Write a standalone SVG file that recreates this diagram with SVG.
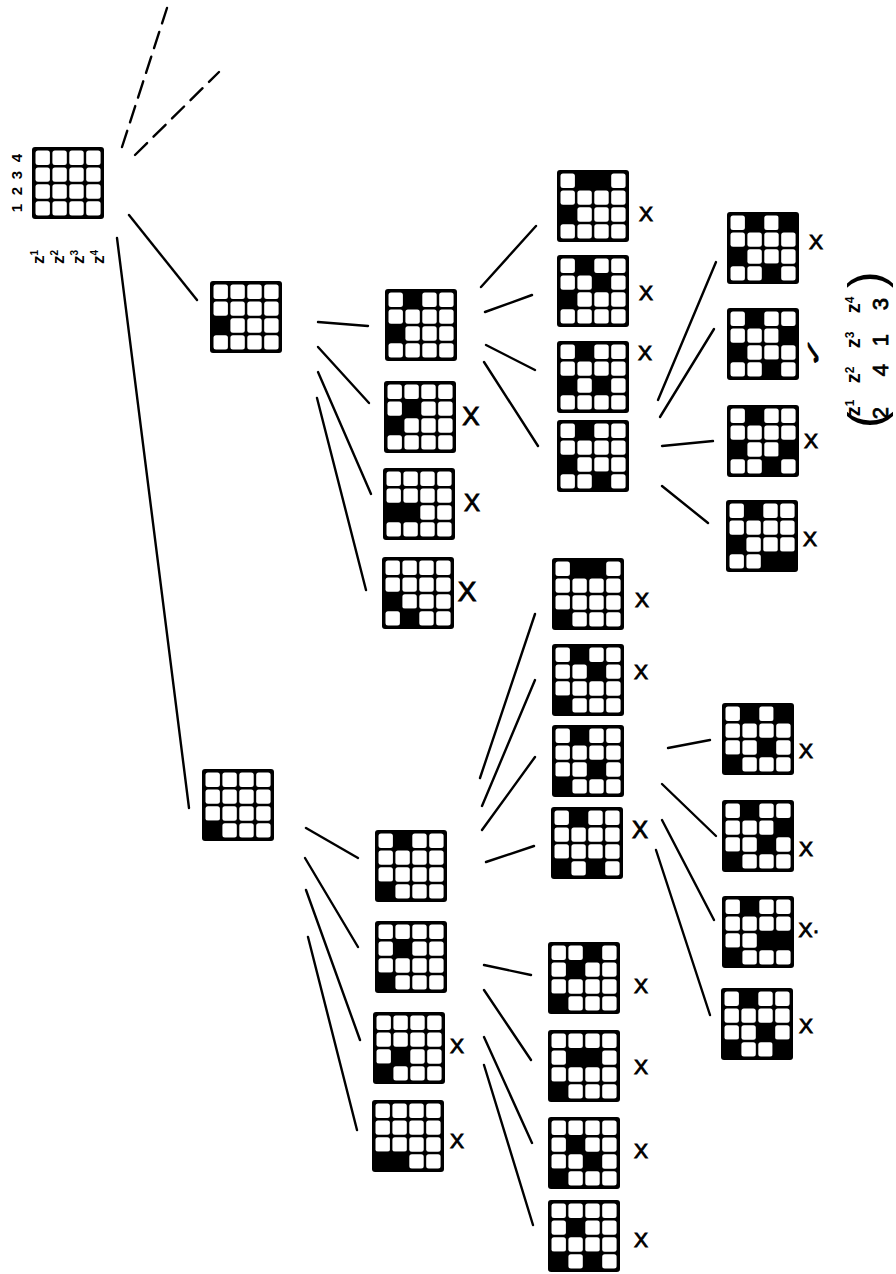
<svg xmlns="http://www.w3.org/2000/svg" xmlns:xlink="http://www.w3.org/1999/xlink" width="896" height="1274" viewBox="0 0 896 1274">
<style>
.cell{fill:#fff}
.q{fill:#000}
.ln{stroke:#000;stroke-width:2.4;stroke-linecap:round;fill:none}
.dash{stroke-dasharray:17 9}
.mk{font-family:"Liberation Sans",Arial,sans-serif;font-size:21px;fill:#000;stroke:#000;stroke-width:0.9;text-anchor:middle}
.lab{font-family:"Liberation Sans",Arial,sans-serif;fill:#000;font-weight:bold}
</style>
<defs>
<g id="board">
<rect width="72" height="72" rx="3" fill="#000"/>
<rect class="cell" x="3.5" y="3.5" width="14.4" height="14.4" rx="2.5"/>
<rect class="cell" x="20.4" y="3.5" width="14.4" height="14.4" rx="2.5"/>
<rect class="cell" x="37.3" y="3.5" width="14.4" height="14.4" rx="2.5"/>
<rect class="cell" x="54.2" y="3.5" width="14.4" height="14.4" rx="2.5"/>
<rect class="cell" x="3.5" y="20.4" width="14.4" height="14.4" rx="2.5"/>
<rect class="cell" x="20.4" y="20.4" width="14.4" height="14.4" rx="2.5"/>
<rect class="cell" x="37.3" y="20.4" width="14.4" height="14.4" rx="2.5"/>
<rect class="cell" x="54.2" y="20.4" width="14.4" height="14.4" rx="2.5"/>
<rect class="cell" x="3.5" y="37.3" width="14.4" height="14.4" rx="2.5"/>
<rect class="cell" x="20.4" y="37.3" width="14.4" height="14.4" rx="2.5"/>
<rect class="cell" x="37.3" y="37.3" width="14.4" height="14.4" rx="2.5"/>
<rect class="cell" x="54.2" y="37.3" width="14.4" height="14.4" rx="2.5"/>
<rect class="cell" x="3.5" y="54.2" width="14.4" height="14.4" rx="2.5"/>
<rect class="cell" x="20.4" y="54.2" width="14.4" height="14.4" rx="2.5"/>
<rect class="cell" x="37.3" y="54.2" width="14.4" height="14.4" rx="2.5"/>
<rect class="cell" x="54.2" y="54.2" width="14.4" height="14.4" rx="2.5"/>
</g>
<rect id="qn" class="q" x="-0.9" y="-0.9" width="17.4" height="17.4"/>
</defs>

<g id="connectors">
<line class="ln dash" x1="122" y1="147" x2="167" y2="8"/>
<line class="ln dash" x1="135" y1="155" x2="219" y2="72"/>
<line class="ln" x1="129" y1="215" x2="197" y2="300"/>
<line class="ln" x1="117" y1="238" x2="189" y2="808"/>
<line class="ln" x1="318" y1="322" x2="368" y2="326"/>
<line class="ln" x1="318" y1="347" x2="369" y2="403"/>
<line class="ln" x1="318" y1="372" x2="371" y2="494"/>
<line class="ln" x1="317" y1="398" x2="366" y2="590"/>
<line class="ln" x1="481" y1="287" x2="536" y2="226"/>
<line class="ln" x1="485" y1="312" x2="532" y2="295"/>
<line class="ln" x1="486" y1="345" x2="535" y2="370"/>
<line class="ln" x1="484" y1="362" x2="538" y2="446"/>
<line class="ln" x1="658" y1="400" x2="716" y2="262"/>
<line class="ln" x1="660" y1="417" x2="714" y2="329"/>
<line class="ln" x1="662" y1="446" x2="713" y2="441"/>
<line class="ln" x1="662" y1="486" x2="708" y2="523"/>
<line class="ln" x1="306" y1="828" x2="358" y2="858"/>
<line class="ln" x1="305" y1="858" x2="358" y2="947"/>
<line class="ln" x1="306" y1="890" x2="360" y2="1040"/>
<line class="ln" x1="308" y1="937" x2="357" y2="1130"/>
<line class="ln" x1="480" y1="778" x2="535" y2="614"/>
<line class="ln" x1="482" y1="806" x2="535" y2="680"/>
<line class="ln" x1="482" y1="830" x2="535" y2="757"/>
<line class="ln" x1="486" y1="862" x2="534" y2="846"/>
<line class="ln" x1="484" y1="965" x2="531" y2="975"/>
<line class="ln" x1="484" y1="990" x2="531" y2="1060"/>
<line class="ln" x1="484" y1="1037" x2="532" y2="1143"/>
<line class="ln" x1="484" y1="1065" x2="533" y2="1225"/>
<line class="ln" x1="668" y1="748" x2="710" y2="740"/>
<line class="ln" x1="662" y1="784" x2="716" y2="836"/>
<line class="ln" x1="662" y1="820" x2="714" y2="920"/>
<line class="ln" x1="656" y1="850" x2="710" y2="1015"/>
</g>

<g id="root" transform="translate(32,147)">
<use xlink:href="#board"/>
</g>
<g id="root-labels" class="lab">
<text font-size="15" transform="translate(22,208) rotate(-90)" text-anchor="middle">1</text>
<text font-size="15" transform="translate(22,191) rotate(-90)" text-anchor="middle">2</text>
<text font-size="15" transform="translate(22,175) rotate(-90)" text-anchor="middle">3</text>
<text font-size="15" transform="translate(22,158) rotate(-90)" text-anchor="middle">4</text>
<text font-size="17" transform="translate(44,257) rotate(-90)" text-anchor="middle">z<tspan font-size="10" dy="-6">1</tspan></text>
<text font-size="17" transform="translate(64,257) rotate(-90)" text-anchor="middle">z<tspan font-size="10" dy="-6">2</tspan></text>
<text font-size="17" transform="translate(84,257) rotate(-90)" text-anchor="middle">z<tspan font-size="10" dy="-6">3</tspan></text>
<text font-size="17" transform="translate(104,257) rotate(-90)" text-anchor="middle">z<tspan font-size="10" dy="-6">4</tspan></text>
</g>

<g id="n1a" transform="translate(210,281)"><use xlink:href="#board"/><use xlink:href="#qn" x="3" y="36"/></g>
<g id="n1b" transform="translate(202,769)"><use xlink:href="#board"/><use xlink:href="#qn" x="3" y="52.5"/></g>

<g id="nA" transform="translate(385,289)"><use xlink:href="#board"/><use xlink:href="#qn" x="19.5" y="3"/><use xlink:href="#qn" x="3" y="36"/></g>
<g id="nB" transform="translate(384,381)"><use xlink:href="#board"/><use xlink:href="#qn" x="19.5" y="19.5"/><use xlink:href="#qn" x="3" y="36"/></g>
<g id="nC" transform="translate(383,468)"><use xlink:href="#board"/><use xlink:href="#qn" x="3" y="36"/><use xlink:href="#qn" x="19.5" y="36"/></g>
<g id="nD" transform="translate(382,557)"><use xlink:href="#board"/><use xlink:href="#qn" x="3" y="36"/><use xlink:href="#qn" x="19.5" y="52.5"/></g>

<g id="nE" transform="translate(557,170)"><use xlink:href="#board"/><use xlink:href="#qn" x="19.5" y="3"/><use xlink:href="#qn" x="36" y="3"/><use xlink:href="#qn" x="3" y="36"/></g>
<g id="nF" transform="translate(557,255)"><use xlink:href="#board"/><use xlink:href="#qn" x="19.5" y="3"/><use xlink:href="#qn" x="36" y="19.5"/><use xlink:href="#qn" x="3" y="36"/></g>
<g id="nG" transform="translate(557,341)"><use xlink:href="#board"/><use xlink:href="#qn" x="19.5" y="3"/><use xlink:href="#qn" x="3" y="36"/><use xlink:href="#qn" x="36" y="36"/></g>
<g id="nH" transform="translate(557,420)"><use xlink:href="#board"/><use xlink:href="#qn" x="19.5" y="3"/><use xlink:href="#qn" x="3" y="36"/><use xlink:href="#qn" x="36" y="52.5"/></g>

<g id="nI" transform="translate(727,212)"><use xlink:href="#board"/><use xlink:href="#qn" x="19.5" y="3"/><use xlink:href="#qn" x="52.5" y="3"/><use xlink:href="#qn" x="3" y="36"/><use xlink:href="#qn" x="36" y="52.5"/></g>
<g id="nJ" transform="translate(727,308)"><use xlink:href="#board"/><use xlink:href="#qn" x="19.5" y="3"/><use xlink:href="#qn" x="52.5" y="19.5"/><use xlink:href="#qn" x="3" y="36"/><use xlink:href="#qn" x="36" y="52.5"/></g>
<g id="nK" transform="translate(727,405)"><use xlink:href="#board"/><use xlink:href="#qn" x="19.5" y="3"/><use xlink:href="#qn" x="3" y="36"/><use xlink:href="#qn" x="52.5" y="36"/><use xlink:href="#qn" x="36" y="52.5"/></g>
<g id="nL" transform="translate(726,500)"><use xlink:href="#board"/><use xlink:href="#qn" x="19.5" y="3"/><use xlink:href="#qn" x="3" y="36"/><use xlink:href="#qn" x="36" y="52.5"/><use xlink:href="#qn" x="52.5" y="52.5"/></g>

<g id="nM" transform="translate(375,830)"><use xlink:href="#board"/><use xlink:href="#qn" x="19.5" y="3"/><use xlink:href="#qn" x="3" y="52.5"/></g>
<g id="nN" transform="translate(375,921)"><use xlink:href="#board"/><use xlink:href="#qn" x="19.5" y="19.5"/><use xlink:href="#qn" x="3" y="52.5"/></g>
<g id="nO" transform="translate(373,1012)"><use xlink:href="#board"/><use xlink:href="#qn" x="19.5" y="36"/><use xlink:href="#qn" x="3" y="52.5"/></g>
<g id="nP" transform="translate(372,1100)"><use xlink:href="#board"/><use xlink:href="#qn" x="3" y="52.5"/><use xlink:href="#qn" x="19.5" y="52.5"/></g>

<g id="nQ" transform="translate(552,558)"><use xlink:href="#board"/><use xlink:href="#qn" x="19.5" y="3"/><use xlink:href="#qn" x="36" y="3"/><use xlink:href="#qn" x="3" y="52.5"/></g>
<g id="nR" transform="translate(552,644)"><use xlink:href="#board"/><use xlink:href="#qn" x="19.5" y="3"/><use xlink:href="#qn" x="36" y="19.5"/><use xlink:href="#qn" x="3" y="52.5"/></g>
<g id="nS" transform="translate(552,725)"><use xlink:href="#board"/><use xlink:href="#qn" x="19.5" y="3"/><use xlink:href="#qn" x="36" y="36"/><use xlink:href="#qn" x="3" y="52.5"/></g>
<g id="nT" transform="translate(551,807)"><use xlink:href="#board"/><use xlink:href="#qn" x="19.5" y="3"/><use xlink:href="#qn" x="3" y="52.5"/><use xlink:href="#qn" x="36" y="52.5"/></g>

<g id="nU" transform="translate(548,942)"><use xlink:href="#board"/><use xlink:href="#qn" x="36" y="3"/><use xlink:href="#qn" x="19.5" y="19.5"/><use xlink:href="#qn" x="3" y="52.5"/></g>
<g id="nV" transform="translate(548,1030)"><use xlink:href="#board"/><use xlink:href="#qn" x="19.5" y="19.5"/><use xlink:href="#qn" x="36" y="19.5"/><use xlink:href="#qn" x="3" y="52.5"/></g>
<g id="nW" transform="translate(548,1117)"><use xlink:href="#board"/><use xlink:href="#qn" x="19.5" y="19.5"/><use xlink:href="#qn" x="36" y="36"/><use xlink:href="#qn" x="3" y="52.5"/></g>
<g id="nY" transform="translate(548,1200)"><use xlink:href="#board"/><use xlink:href="#qn" x="19.5" y="19.5"/><use xlink:href="#qn" x="3" y="52.5"/><use xlink:href="#qn" x="36" y="52.5"/></g>

<g id="na" transform="translate(722,703)"><use xlink:href="#board"/><use xlink:href="#qn" x="19.5" y="3"/><use xlink:href="#qn" x="52.5" y="3"/><use xlink:href="#qn" x="36" y="36"/><use xlink:href="#qn" x="3" y="52.5"/></g>
<g id="nb" transform="translate(722,800)"><use xlink:href="#board"/><use xlink:href="#qn" x="19.5" y="3"/><use xlink:href="#qn" x="52.5" y="19.5"/><use xlink:href="#qn" x="36" y="36"/><use xlink:href="#qn" x="3" y="52.5"/></g>
<g id="nc" transform="translate(722,896)"><use xlink:href="#board"/><use xlink:href="#qn" x="19.5" y="3"/><use xlink:href="#qn" x="36" y="36"/><use xlink:href="#qn" x="52.5" y="36"/><use xlink:href="#qn" x="3" y="52.5"/></g>
<g id="nd" transform="translate(721,988)"><use xlink:href="#board"/><use xlink:href="#qn" x="19.5" y="3"/><use xlink:href="#qn" x="36" y="36"/><use xlink:href="#qn" x="3" y="52.5"/><use xlink:href="#qn" x="52.5" y="52.5"/></g>

<g id="marks" class="mk">
<text x="471" y="425" font-size="26">X</text>
<text x="472" y="511" font-size="24">X</text>
<text x="467" y="601" font-size="28">X</text>
<text x="646" y="221">X</text>
<text x="646" y="300">X</text>
<text x="645" y="360">X</text>
<text x="816" y="249">X</text>
<text x="811" y="448">X</text>
<text x="810" y="546">X</text>
<text x="457" y="1053">X</text>
<text x="457" y="1148">X</text>
<text x="642" y="607">X</text>
<text x="641" y="679">X</text>
<text x="640" y="838" font-size="24">X</text>
<text x="641" y="993">X</text>
<text x="641" y="1074">X</text>
<text x="641" y="1158">X</text>
<text x="641" y="1247">X</text>
<text x="806" y="758">X</text>
<text x="806" y="856">X</text>
<text x="809" y="937">X·</text>
<text x="806" y="1033">X</text>
<text font-family="DejaVu Sans,sans-serif" font-size="38" stroke-width="1.4" text-anchor="middle" transform="translate(820,352) rotate(-90) scale(1,0.5)">✓</text>
</g>

<g id="solution" class="lab">
<text font-size="20" transform="translate(868,350) rotate(-90)" y="-8" text-anchor="middle"><tspan x="-58">z<tspan font-size="12" dy="-6">1</tspan></tspan><tspan x="-25" dy="6">z<tspan font-size="12" dy="-6">2</tspan></tspan><tspan x="10" dy="6">z<tspan font-size="12" dy="-6">3</tspan></tspan><tspan x="45" dy="6">z<tspan font-size="12" dy="-6">4</tspan></tspan></text>
<text font-size="22" font-weight="normal" stroke="#000" stroke-width="0.8" transform="translate(868,350) rotate(-90)" y="20" text-anchor="middle"><tspan x="-63">2</tspan><tspan x="-20">4</tspan><tspan x="10">1</tspan><tspan x="46">3</tspan></text>
<text font-size="50" font-weight="normal" transform="translate(868,350) rotate(-90)" y="15" x="-78">(</text>
<text font-size="50" font-weight="normal" transform="translate(868,350) rotate(-90)" y="15" x="62">)</text>
</g>
</svg>
